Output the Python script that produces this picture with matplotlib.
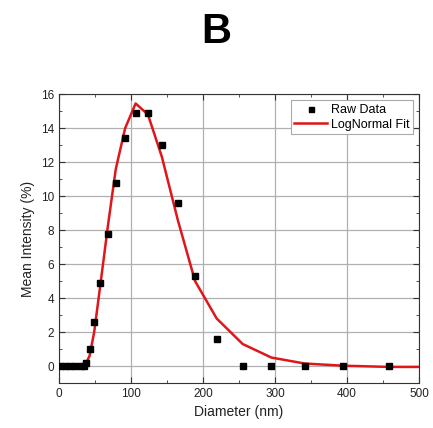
import numpy as np
import matplotlib
matplotlib.use("Agg")
import matplotlib.pyplot as plt
from matplotlib.ticker import MultipleLocator

plt.rcParams['font.family'] = ['Liberation Sans', 'DejaVu Sans']

# raw DLS data
raw_x = [2, 8, 15, 22, 30, 35, 37, 42.6, 49, 57, 68.5, 79, 92, 106.5, 123.6, 143, 165, 189, 219, 255, 295, 341, 395, 458]
raw_y = [0, 0, 0, 0, 0, 0, 0.2, 1.0, 2.6, 4.9, 7.8, 10.8, 13.4, 14.9, 14.9, 13.0, 9.6, 5.3, 1.6, 0, 0, 0, 0, 0]

# lognormal fit, evaluated at the same diameters
fit_x = [0, 10, 20, 30, 35, 37, 42.6, 49, 57, 68.5, 79, 92, 106.5, 123.6, 143, 165, 189, 219, 255, 295, 341, 395, 458, 500]
fit_y = [-0.05, -0.05, -0.05, -0.05, 0.0, 0.1, 0.6, 2.0, 4.6, 8.4, 11.6, 14.0, 15.45, 14.8, 12.3, 8.6, 5.0, 2.8, 1.3, 0.5, 0.15, 0.02, -0.05, -0.05]

fig = plt.figure(figsize=(4.33, 4.28), dpi=100)
ax = fig.add_axes([0.136, 0.105, 0.832, 0.675])

ax.grid(True, color='#b0b0b0', lw=0.9)
ax.set_axisbelow(True)
ax.plot(raw_x, raw_y, 's', color='black', ms=4.5, label='Raw Data', zorder=3)
ax.plot(fit_x, fit_y, '-', color='#e0161b', lw=1.8, label='LogNormal Fit', zorder=2)

ax.set_xlim(0, 500)
ax.set_ylim(-1, 16)
ax.xaxis.set_major_locator(MultipleLocator(100))
ax.xaxis.set_minor_locator(MultipleLocator(50))
ax.set_yticks(range(0, 17, 2))
ax.yaxis.set_minor_locator(MultipleLocator(1))
ax.tick_params(which='both', top=True, right=True, direction='in', labelsize=8.5,
               color='#333333', labelcolor='#222222')
ax.tick_params(which='major', length=4)
ax.tick_params(which='minor', length=2)
for s in ax.spines.values():
    s.set_color('#333333')

ax.set_xlabel('Diameter (nm)', fontsize=10, color='#222222')
ax.set_ylabel('Mean Intensity (%)', fontsize=10, color='#222222')

leg = ax.legend(loc='upper right', fontsize=9, fancybox=False, framealpha=1,
                edgecolor='#aaaaaa', handlelength=2.6, borderpad=0.3, labelspacing=0.2,
                markerscale=0.8, handletextpad=0.3)
leg.get_frame().set_linewidth(0.8)

fig.text(0.5, 0.925, 'B', ha='center', va='center', fontsize=30, fontweight='bold')

fig.savefig('out.png', dpi=100)
